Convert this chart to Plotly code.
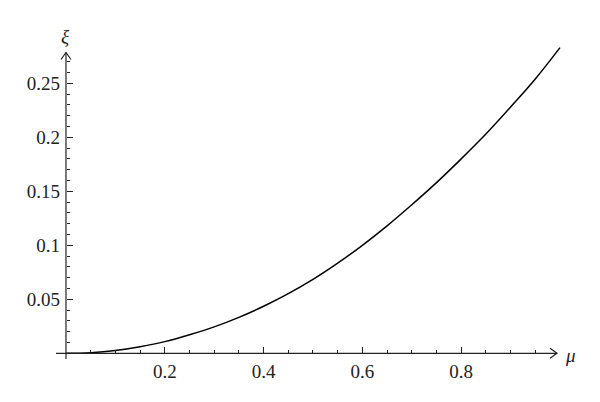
import plotly.graph_objects as go

# data
mu = [0.0, 0.05, 0.1, 0.15, 0.2, 0.25, 0.3, 0.35, 0.4, 0.45, 0.5,
      0.55, 0.6, 0.65, 0.7, 0.75, 0.8, 0.85, 0.9, 0.95, 1.0]
xi = [0.0, 0.0006, 0.0026, 0.0061, 0.0108, 0.0172, 0.0245, 0.0333, 0.0436, 0.0553, 0.0685,
      0.0835, 0.1000, 0.1180, 0.1375, 0.1580, 0.1800, 0.2030, 0.2280, 0.2540, 0.2830]

x_major = [0.2, 0.4, 0.6, 0.8]
x_major_text = ["0.2", "0.4", "0.6", "0.8"]
x_minor = [0.05, 0.1, 0.15, 0.25, 0.3, 0.35, 0.45, 0.5, 0.55, 0.65, 0.7, 0.75, 0.85, 0.9, 0.95]
y_major = [0.05, 0.1, 0.15, 0.2, 0.25]
y_major_text = ["0.05", "0.1", "0.15", "0.2", "0.25"]
y_minor = [0.01, 0.02, 0.03, 0.04, 0.06, 0.07, 0.08, 0.09, 0.11, 0.12, 0.13, 0.14,
           0.16, 0.17, 0.18, 0.19, 0.21, 0.22, 0.23, 0.24, 0.26, 0.27]

x_axis_span = [-0.0202, 0.994]
y_axis_span = [-0.0053, 0.2785]

XR = [-0.0526, 1.0405]
YR = [-0.01731, 0.29935]

FONT = "Liberation Serif"

fig = go.Figure()
fig.add_trace(go.Scatter(x=mu, y=xi, mode="lines",
                         line=dict(color="black", width=1.5, shape="spline"),
                         hoverinfo="skip", showlegend=False))

xpos = (0 - YR[0]) / (YR[1] - YR[0])
ypos = (0 - XR[0]) / (XR[1] - XR[0])

fig.update_layout(
    width=600, height=402,
    margin=dict(l=40, r=20, t=30, b=30, autoexpand=False),
    paper_bgcolor="white", plot_bgcolor="white",
    xaxis=dict(range=XR, showgrid=False, zeroline=False, showline=False,
               automargin=False,
               anchor="free", position=xpos, side="bottom",
               tickmode="array", tickvals=x_major, ticktext=x_major_text,
               ticks="inside", ticklen=6, tickwidth=1, tickcolor="#222",
               ticklabelstandoff=5,
               tickfont=dict(family=FONT, size=19, color="#222"),
               minor=dict(tickvals=x_minor, ticks="inside", ticklen=3.5,
                          tickwidth=1, tickcolor="#222", showgrid=False)),
    yaxis=dict(range=YR, showgrid=False, zeroline=False, showline=False,
               automargin=False,
               anchor="free", position=ypos, side="left",
               tickmode="array", tickvals=y_major, ticktext=y_major_text,
               ticks="inside", ticklen=6, tickwidth=1, tickcolor="#222",
               ticklabelstandoff=6,
               tickfont=dict(family=FONT, size=19, color="#222"),
               minor=dict(tickvals=y_minor, ticks="inside", ticklen=3.5,
                          tickwidth=1, tickcolor="#222", showgrid=False)),
)

# axis lines
fig.add_shape(type="line", xref="x", yref="y", x0=x_axis_span[0], x1=x_axis_span[1],
              y0=0, y1=0, line=dict(color="#222", width=1.2))
fig.add_shape(type="line", xref="x", yref="y", x0=0, x1=0,
              y0=y_axis_span[0], y1=y_axis_span[1], line=dict(color="#222", width=1.2))
# open arrowheads
fig.add_shape(type="path", xref="x", yref="y", xsizemode="pixel", ysizemode="pixel",
              xanchor=x_axis_span[1], yanchor=0,
              path="M -7,5 L 0,0 L -7,-5", line=dict(color="#222", width=1.2))
fig.add_shape(type="path", xref="x", yref="y", xsizemode="pixel", ysizemode="pixel",
              xanchor=0, yanchor=y_axis_span[1],
              path="M -5,-7 L 0,0 L 5,-7", line=dict(color="#222", width=1.2))

# axis labels
fig.add_annotation(x=x_axis_span[1], y=0, xref="x", yref="y", text="<i>μ</i>",
                   showarrow=False, xanchor="left", xshift=6, yshift=-2,
                   font=dict(family=FONT, size=19, color="#222"))
fig.add_annotation(x=0, y=y_axis_span[1], xref="x", yref="y", text="<i>ξ</i>",
                   showarrow=False, yanchor="bottom", yshift=4,
                   font=dict(family=FONT, size=19, color="#222"))

fig.write_html("out.html", config={"displayModeBar": False},
               post_script="document.body.style.margin='0';document.body.style.overflow='hidden';")
